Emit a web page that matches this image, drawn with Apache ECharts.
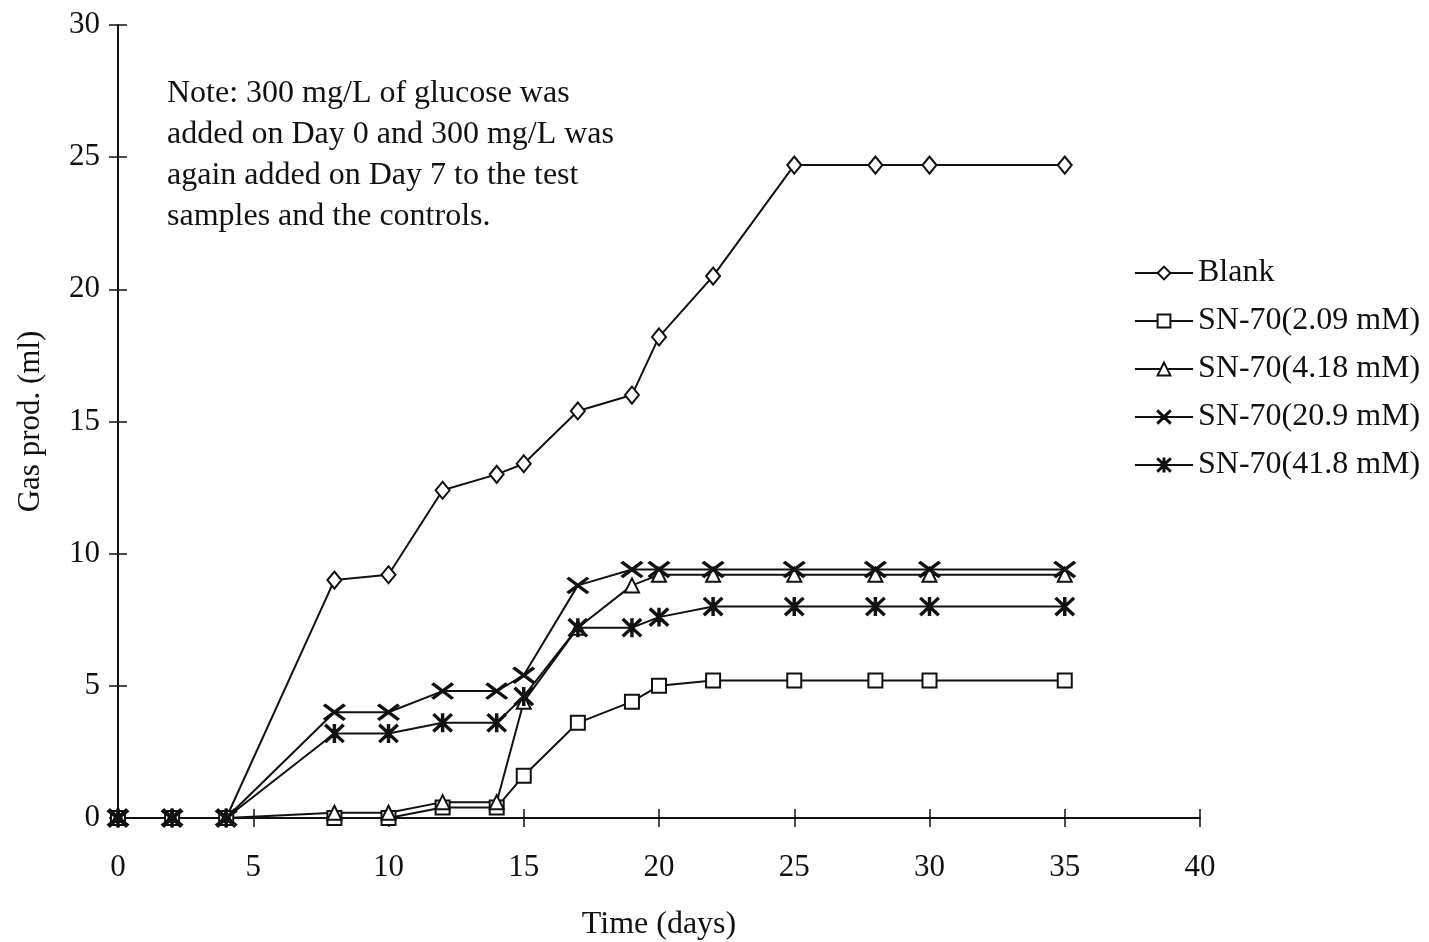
<!DOCTYPE html>
<html lang="en">
<head>
    <meta charset="UTF-8">
    <title>Gas production</title>
    <script src="https://cdn.jsdelivr.net/npm/echarts@6/dist/echarts.min.js"></script>
    <style>
        html, body { margin: 0; padding: 0; background: #fff; }
        #main { width: 1429px; height: 942px; }
    </style>
</head>
<body>
<div id="main"></div>

<script type="text/javascript">
    // days on which gas was measured
    var days = [0, 2, 4, 8, 10, 12, 14, 15, 17, 19, 20, 22, 25, 28, 30, 35];

    var blank   = [0, 0, 0, 9.0, 9.2, 12.4, 13.0, 13.4, 15.4, 16.0, 18.2, 20.5, 24.7, 24.7, 24.7, 24.7];
    var sn209   = [0, 0, 0, 0.0, 0.0, 0.4, 0.4, 1.6, 3.6, 4.4, 5.0, 5.2, 5.2, 5.2, 5.2, 5.2];
    var sn418   = [0, 0, 0, 0.2, 0.2, 0.6, 0.6, 4.4, 7.2, 8.8, 9.2, 9.2, 9.2, 9.2, 9.2, 9.2];
    var sn209b  = [0, 0, 0, 4.0, 4.0, 4.8, 4.8, 5.4, 8.8, 9.4, 9.4, 9.4, 9.4, 9.4, 9.4, 9.4];
    var sn418b  = [0, 0, 0, 3.2, 3.2, 3.6, 3.6, 4.6, 7.2, 7.2, 7.6, 8.0, 8.0, 8.0, 8.0, 8.0];

    var seriesNames = ['Blank', 'SN-70(2.09 mM)', 'SN-70(4.18 mM)', 'SN-70(20.9 mM)', 'SN-70(41.8 mM)'];
    var noteLines = [
        'Note: 300 mg/L of glucose was',
        'added on Day 0 and 300 mg/L was',
        'again added on Day 7 to the test',
        'samples and the controls.'
    ];

    var FONT = '"Liberation Serif", "DejaVu Serif", serif';

    // x and asterisk markers drawn as thin filled bars
    var crossPath = 'path://M0,0.9 L1.1,0 L20,14.1 L18.9,15 Z M18.9,0 L20,0.9 L1.1,15 L0,14.1 Z';
    var starPath = 'path://M0,1 L1,0 L18,16 L17,17 Z M17,0 L18,1 L1,17 L0,16 Z M8.3,0 L9.7,0 L9.7,17 L8.3,17 Z';

    function pairs(vals) {
        return days.map(function (d, i) { return [d, vals[i]]; });
    }

    function makeSeries(name, vals, symbol, size) {
        return {
            name: name,
            type: 'line',
            data: pairs(vals),
            symbol: symbol,
            symbolSize: size,
            showAllSymbol: true,
            lineStyle: { color: '#111', width: 2 },
            itemStyle: { color: '#111', borderColor: '#111', borderWidth: 2 },
            emphasis: { disabled: true },
            z: 3
        };
    }

    var chart = echarts.init(document.getElementById('main'));

    var axisText = { color: '#111', fontFamily: FONT, fontSize: 31 };

    chart.setOption({
        animation: false,
        backgroundColor: '#fff',
        grid: { left: 118, right: 229, top: 25, bottom: 124, outerBoundsMode: 'none' },
        legend: {
            orient: 'vertical',
            left: 1134,
            top: 257,
            padding: 0,
            itemWidth: 58,
            itemHeight: 16,
            itemGap: 16,
            data: seriesNames,
            textStyle: { color: '#111', fontFamily: FONT, fontSize: 32, lineHeight: 32 }
        },
        xAxis: [{
            type: 'value',
            min: 0, max: 40, interval: 5,
            name: 'Time (days)',
            nameLocation: 'middle',
            nameGap: 91,
            nameTextStyle: { color: '#111', fontFamily: FONT, fontSize: 32 },
            axisLine: { lineStyle: { color: '#111', width: 2 } },
            axisTick: { length: 9, lineStyle: { color: '#111', width: 1.5 } },
            axisLabel: Object.assign({ margin: 34 }, axisText),
            splitLine: { show: false }
        }, {
            type: 'value',
            min: 0, max: 40, interval: 5,
            position: 'bottom',
            axisLine: { show: false },
            axisTick: { inside: true, length: 9, lineStyle: { color: '#111', width: 1.5 } },
            axisLabel: { show: false },
            splitLine: { show: false }
        }],
        yAxis: [{
            type: 'value',
            min: 0, max: 30, interval: 5,
            name: 'Gas prod. (ml)',
            nameLocation: 'middle',
            nameRotate: 90,
            nameGap: 72,
            nameTextStyle: { color: '#111', fontFamily: FONT, fontSize: 31 },
            axisLine: { show: true, lineStyle: { color: '#111', width: 2 } },
            axisTick: { show: true, length: 9, lineStyle: { color: '#111', width: 1.5 } },
            axisLabel: Object.assign({ margin: 18 }, axisText),
            splitLine: { show: false }
        }, {
            type: 'value',
            min: 0, max: 30, interval: 5,
            position: 'left',
            axisLine: { show: false },
            axisTick: { show: true, inside: true, length: 9, lineStyle: { color: '#111', width: 1.5 } },
            axisLabel: { show: false },
            splitLine: { show: false }
        }],
        graphic: [{
            type: 'text',
            left: 167,
            top: 73,
            style: {
                text: noteLines.join('\n'),
                fill: '#111',
                font: '32px ' + FONT,
                lineHeight: 41
            }
        }],
        series: [
            makeSeries(seriesNames[0], blank, 'emptyDiamond', [14, 17]),
            makeSeries(seriesNames[1], sn209, 'emptyRect', 14),
            makeSeries(seriesNames[2], sn418, 'emptyTriangle', 14),
            makeSeries(seriesNames[3], sn209b, crossPath, [20, 15]),
            makeSeries(seriesNames[4], sn418b, starPath, [18, 17])
        ]
    });
</script>
</body>
</html>
